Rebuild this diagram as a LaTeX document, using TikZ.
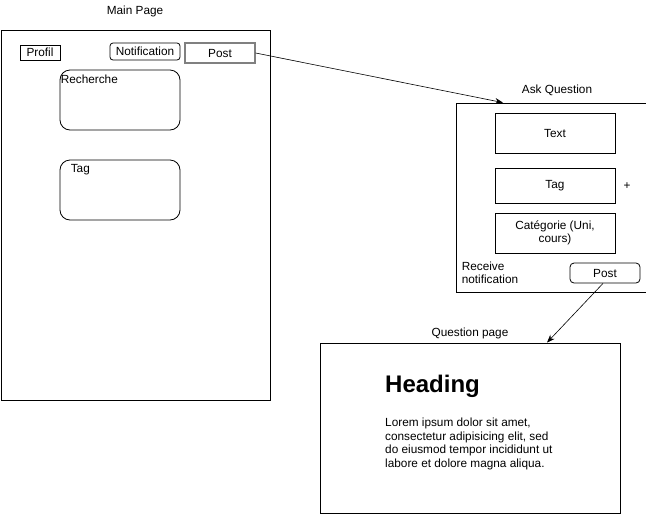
\documentclass[tikz,border=0pt]{standalone}
\usepackage{fontspec}
\setmainfont{Liberation Sans}
\usetikzlibrary{positioning}
\usetikzlibrary{arrows.meta}

\tikzset{
  frame/.style={draw, line width=0.8pt, inner sep=0pt},
  field/.style={draw, line width=0.8pt, inner sep=0pt, align=center},
  roundfield/.style={field, rounded corners=6pt},
  flow/.style={-{Stealth[length=8pt,width=6pt]}, line width=0.6pt},
}

\begin{document}
\begin{tikzpicture}[x=1pt, y=-1pt, font=\fontsize{11.8}{13.5}\selectfont]
  \useasboundingbox (0,0) rectangle (646,515);

  % Main Page
  \node at (135,11) (maintitle) {Main Page};
  \node[frame, minimum width=269pt, minimum height=370pt] at (135.5,215) (main) {};
  \node[field, minimum width=40pt, minimum height=15pt] at (40,52.5) (profil) {Profil};
  \node[roundfield, rounded corners=3pt, minimum width=70pt, minimum height=17pt] at (145,51.5) (notif) {Notification};
  \node[field, draw=gray, line width=1.2pt, minimum width=70pt, minimum height=20pt] at (220,53) (post) {Post};
  \node[roundfield, rounded corners=10pt, minimum width=120pt, minimum height=60pt,
        label={[anchor=north west, inner sep=1pt, yshift=-4pt]north west:Recherche}] at (120,100) (recherche) {};
  \node[roundfield, rounded corners=10pt, minimum width=120pt, minimum height=60pt,
        label={[anchor=north west, inner sep=1pt, xshift=10pt, yshift=-4pt]north west:Tag}] at (120,190) (tag) {};

  % Ask Question
  \node at (557,90) (asktitle) {Ask Question};
  \node[frame, minimum width=190pt, minimum height=189pt] at (551,197.5) (ask) {};
  \node[field, minimum width=120pt, minimum height=40pt] at (555,133) (text) {Text};
  \node[field, minimum width=120pt, minimum height=35pt] at (555,185.5) (asktag) {Tag};
  \node at (627,186) (plus) {+};
  \node[field, minimum width=120pt, minimum height=40pt] at (555,233) (categorie) {Catégorie (Uni,\\cours)};
  \node[align=left, inner sep=0pt] at (490,273) (receive) {Receive\\notification};
  \node[roundfield, rounded corners=4pt, minimum width=70pt, minimum height=20pt] at (605,273) (askpost) {Post};

  % Question page
  \node at (470,333) (questiontitle) {Question page};
  \node[frame, minimum width=300pt, minimum height=170pt] at (470,428) (question) {};
  \node[anchor=west, inner sep=0pt, font=\fontsize{24}{28}\bfseries] at (385,386) (heading) {Heading};
  \node[anchor=north west, inner sep=0pt, align=left] at (385,418) (lorem)
    {Lorem ipsum dolor sit amet,\\consectetur adipisicing elit, sed\\do eiusmod tempor incididunt ut\\labore et dolore magna aliqua.};

  % Fleches
  \draw[flow] (post.east) -- ([xshift=-48pt]ask.north);
  \draw[flow] ([xshift=-2pt]askpost.south) -- ([xshift=77pt]question.north);
\end{tikzpicture}
\end{document}
